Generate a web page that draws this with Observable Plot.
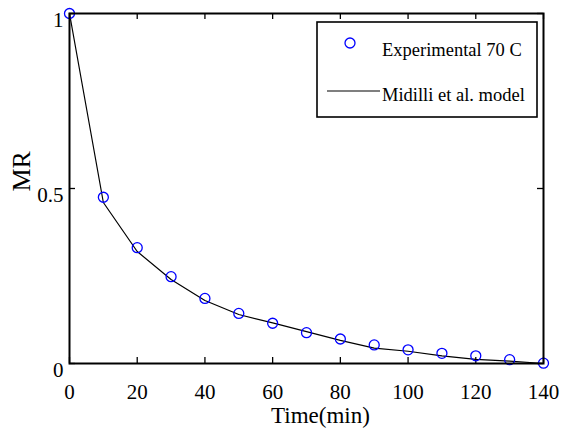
<!DOCTYPE html>
<html><head><meta charset="utf-8">
<script src="https://cdn.jsdelivr.net/npm/d3@7"></script>
<script src="https://cdn.jsdelivr.net/npm/@observablehq/plot@0.6"></script>
<style>body{margin:0;background:#fff} #chart{position:relative;width:562px;height:432px}</style>
</head><body><div id="chart"></div>
<script>
const time = [0, 10, 20, 30, 40, 50, 60, 70, 80, 90, 100, 110, 120, 130, 140];
const mrExperimental = [1.0, 0.475, 0.331, 0.248, 0.186, 0.143, 0.115, 0.088, 0.070, 0.053, 0.039, 0.029, 0.022, 0.011, 0.001];
const mrModel = [1.0, 0.46, 0.32, 0.24, 0.18, 0.14, 0.116, 0.091, 0.066, 0.044, 0.035, 0.022, 0.012, 0.007, 0.0];
const xTicks = [0, 20, 40, 60, 80, 100, 120, 140];
const yTicks = [0, 0.5, 1];
const yTickLabels = ["0", "0.5", "1"];
const xLabel = "Time(min)";
const yLabel = "MR";
const legendLabels = ["Experimental 70 C", "Midilli et al. model"];

const data = time.map((t, i) => ({t, exp: mrExperimental[i], model: mrModel[i]}));
const font = "Liberation Serif, Tinos, Times New Roman, Times, DejaVu Serif, serif";
const W = 562, H = 432, mL = 69, mR = 19, mT = 13, mB = 69, tickLen = 6;
const fw = W - mL - mR, fh = H - mT - mB;

const plot = Plot.plot({
  width: W, height: H,
  marginLeft: mL, marginRight: mR, marginTop: mT, marginBottom: mB,
  style: {fontFamily: font, fontSize: "21px", color: "#000", background: "#fff", overflow: "visible"},
  x: {domain: [0, 140], label: null},
  y: {domain: [0, 1], label: null},
  marks: [
    // inward ticks on all four sides (MATLAB box style)
    Plot.tickX(xTicks, {x: d => d, insetTop: fh - tickLen, stroke: "black", strokeWidth: 1.3}),
    Plot.tickX(xTicks, {x: d => d, insetBottom: fh - tickLen, stroke: "black", strokeWidth: 1.3}),
    Plot.tickY(yTicks, {y: d => d, insetRight: fw - tickLen, stroke: "black", strokeWidth: 1.3}),
    Plot.tickY(yTicks, {y: d => d, insetLeft: fw - tickLen, stroke: "black", strokeWidth: 1.3}),
    Plot.axisX(xTicks, {anchor: "bottom", tickSize: 0, tickPadding: 21, label: null, fontSize: 21, fontFamily: font, tickFormat: d => String(d)}),
    Plot.axisY(yTicks, {anchor: "left", tickSize: 0, tickPadding: 6, dy: 7, label: null, fontSize: 21, fontFamily: font,
      tickFormat: d => yTickLabels[yTicks.indexOf(d)]}),
    Plot.line(data, {x: "t", y: "model", stroke: "black", strokeWidth: 1.2}),
    Plot.dot(data, {x: "t", y: "exp", r: 5, stroke: "#0000ff", strokeWidth: 1.3, fill: "none"}),
    Plot.frame({stroke: "black", strokeWidth: 2}),
    Plot.text([xLabel], {frameAnchor: "bottom", dx: 14, dy: 59, fontSize: 23, fontFamily: font}),
    Plot.text([yLabel], {frameAnchor: "left", rotate: -90, dx: -48, dy: 3, fontSize: 26, fontFamily: font})
  ]
});
document.getElementById("chart").appendChild(plot);

// legend (MATLAB-style box in upper right)
const svg = d3.select(plot);
const lg = svg.append("g").attr("font-family", font).attr("font-size", 18.5).attr("text-anchor", "start");
lg.append("rect").attr("x", 317).attr("y", 22).attr("width", 220).attr("height", 95)
  .attr("fill", "white").attr("stroke", "black").attr("stroke-width", 1.6);
lg.append("circle").attr("cx", 350).attr("cy", 43).attr("r", 5)
  .attr("fill", "none").attr("stroke", "#0000ff").attr("stroke-width", 1.3);
lg.append("text").attr("x", 382).attr("y", 56).attr("text-anchor", "start").text(legendLabels[0]);
lg.append("line").attr("x1", 327).attr("x2", 380).attr("y1", 91).attr("y2", 91)
  .attr("stroke", "black").attr("stroke-width", 1.2);
lg.append("text").attr("x", 382).attr("y", 101).attr("text-anchor", "start").text(legendLabels[1]);
</script>
</body></html>
